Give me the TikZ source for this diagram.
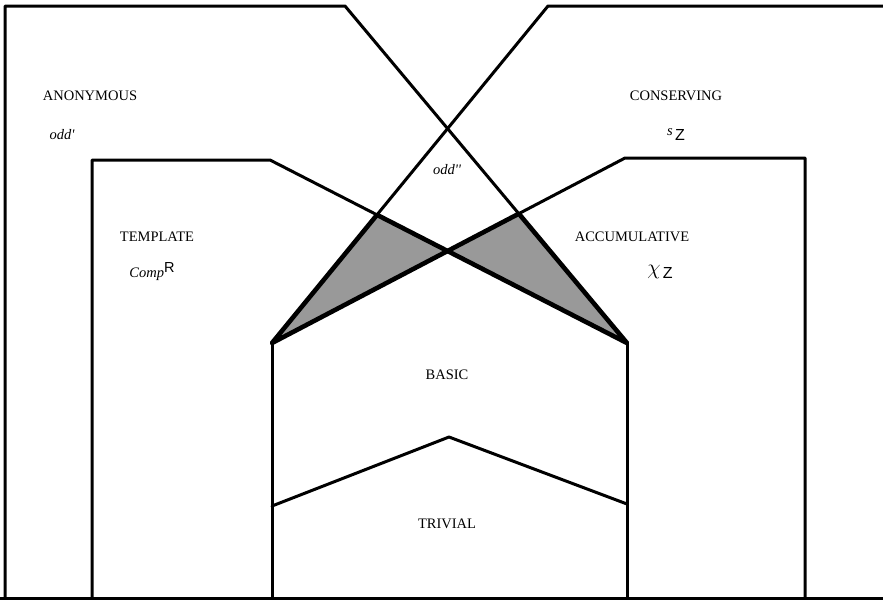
\documentclass[tikz,border=0pt]{standalone}
\usepackage{fontspec}
\setmainfont{Liberation Serif}
\newfontfamily\helv{Liberation Sans}
\newfontfamily\rawserif{Liberation Serif}
\begin{document}
\begin{tikzpicture}[x=1pt,y=-1pt,
  edge/.style={line width=3pt,line cap=round,line join=round},
  thickedge/.style={line width=4.6pt,line join=round},
  shade/.style={fill=black!40},
  lbl/.style={font=\fontsize{14.5}{17}\selectfont,inner sep=0pt},
  ilbl/.style={font=\rawserif\fontsize{14.5}{17}\selectfont\itshape,inner sep=0pt}]
\useasboundingbox (0,0) rectangle (883,600);
% key coordinates
\coordinate (a1) at (345,6);   \coordinate (a2) at (627,343);
\coordinate (b1) at (548,6);   \coordinate (b2) at (272,343);
\coordinate (c1) at (270,160);
\coordinate (d1) at (625,158);
\coordinate (L) at (intersection of a1--a2 and b1--b2);
\coordinate (pl) at (intersection of b1--b2 and c1--a2);
\coordinate (pr) at (intersection of a1--a2 and d1--b2);
\coordinate (m) at (intersection of c1--a2 and d1--b2);
% shaded triangles
\filldraw[shade,thickedge] (pl) -- (m) -- (b2) -- cycle;
\filldraw[shade,thickedge] (pr) -- (m) -- (a2) -- cycle;
% outer shapes
\draw[edge] (5,598) -- (5,6) -- (a1) -- (a2);
\draw[edge] (883,6) -- (b1) -- (b2);
\draw[edge] (92,598) -- (92,160) -- (c1) -- (a2);
\draw[edge] (805,598) -- (805,158) -- (d1) -- (b2);
\draw[edge] (b2) -- (272,598);
\draw[edge] (a2) -- (627,598);
\draw[edge] (272,506) -- (449,437) -- (627,504);
\draw[edge] (0,598) -- (883,598);
% labels
\node[lbl] (anon) at (90,96) {ANONYMOUS};
\node[ilbl] (oddp) at (62,135) {odd'};
\node[lbl] (cons) at (676,96) {CONSERVING};
\node[lbl] (sz) at (676,135) {\raisebox{5pt}{\itshape s}\,{\helv\fontsize{16}{18}\selectfont Z}};
\node[lbl] (temp) at (157,237) {TEMPLATE};
\node[lbl] (comp) at (152,272) {{\itshape Comp}\raisebox{5pt}{\helv R}};
\node[lbl] (acc) at (632,237) {ACCUMULATIVE};
\node[lbl] (chi) at (660,272) {\raisebox{4pt}{\scalebox{1.5}{$\chi$}}\,{\helv\fontsize{16}{18}\selectfont Z}};
\node[ilbl] (oddpp) at (447,170) {odd''};
\node[lbl] (basic) at (447,375) {BASIC};
\node[lbl] (triv) at (447,524) {TRIVIAL};
\end{tikzpicture}
\end{document}
